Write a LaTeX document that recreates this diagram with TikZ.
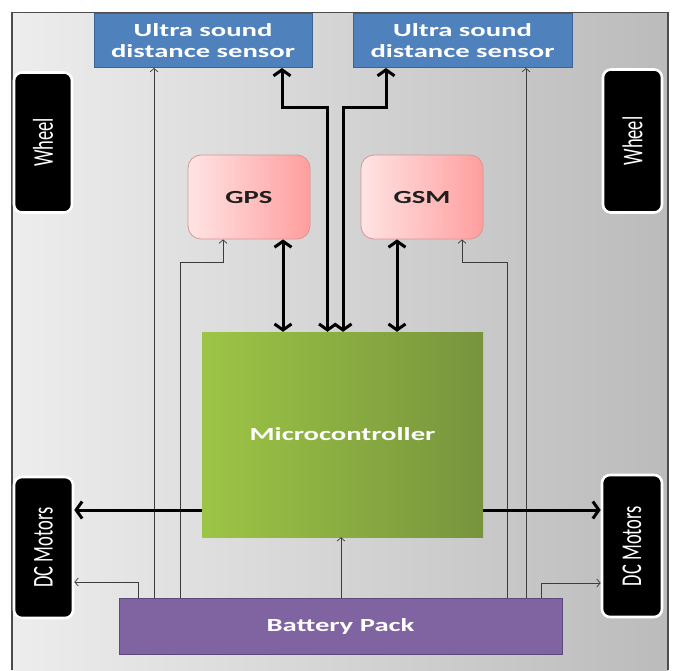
\documentclass[tikz,border=0pt]{standalone}
\usepackage{fontspec}
\usepackage{graphicx}
\setmainfont{Carlito}
\newfontfamily\cfs[FakeStretch=1.55]{Carlito}
\usetikzlibrary{arrows.meta}
\definecolor{usblue}{HTML}{4F81BD}
\definecolor{usborder}{HTML}{3A6497}
\definecolor{batfill}{HTML}{8064A2}
\definecolor{batborder}{HTML}{5E4A7A}
\definecolor{gpsL}{HTML}{FFE4E4}
\definecolor{gpsR}{HTML}{FF9E9E}
\definecolor{gpsB}{HTML}{D99595}
\definecolor{mcL}{HTML}{9DC545}
\definecolor{mcR}{HTML}{77943D}
\definecolor{bgL}{HTML}{EDEDED}
\definecolor{bgR}{HTML}{BBBBBB}
\definecolor{thinc}{HTML}{3C3C3C}
\tikzset{
  txt/.style={font=\cfs\bfseries\fontsize{18.5}{21}\selectfont},
  usbox/.style={draw=usborder, line width=1pt, fill=usblue, text=white, txt, align=center, inner sep=0pt},
  blackbox/.style={draw=white, line width=2.6pt, fill=black, rounded corners=8pt, text=white, inner sep=0pt},
  pinkbox/.style={draw=gpsB, line width=0.8pt, left color=gpsL, right color=gpsR, rounded corners=13pt, text=black!88, txt, inner sep=0pt},
  mcbox/.style={draw=none, left color=mcL, right color=mcR, text=white, txt, inner sep=0pt},
  batbox/.style={draw=batborder, line width=1pt, fill=batfill, text=white, txt, inner sep=0pt},
  bigarrow/.style={line width=3pt, black, arrows={-{Straight Barb[length=6pt,width=17pt]}}},
  bigboth/.style={line width=3pt, black, arrows={{Straight Barb[length=6pt,width=17pt]}-{Straight Barb[length=6pt,width=17pt]}}},
  thinarrow/.style={line width=0.8pt, thinc, arrows={-{Straight Barb[length=3.5pt,width=8pt,line width=0.7pt]}}},
}
\newcommand{\vtext}[1]{\scalebox{1}[1.55]{\fontsize{18.5}{21}\selectfont #1}}
\begin{document}
\begin{tikzpicture}[x=1pt,y=-1pt]
\useasboundingbox (0,0) rectangle (675,670);
% background frame
\shade[left color=bgL, right color=bgR] (12,12.5) rectangle (668,670);
\draw[line width=1.3pt, black!70] (12,670) -- (12,12.5) -- (668,12.5) -- (668,670);

% nodes
\node[usbox, minimum width=218pt, minimum height=54pt] (us1) at (203,40.5) {Ultra sound\\distance sensor};
\node[usbox, minimum width=219pt, minimum height=54pt] (us2) at (462.5,40.5) {Ultra sound\\distance sensor};
\node[blackbox, minimum width=58pt, minimum height=140pt] (wl) at (43,142.5) {};
\node[rotate=90, text=white] at (wl.center) {\vtext{Wheel}};
\node[blackbox, minimum width=59pt, minimum height=143pt] (wr) at (632.5,141) {};
\node[rotate=90, text=white] at (wr.center) {\vtext{Wheel}};
\node[pinkbox, minimum width=122pt, minimum height=84pt] (gps) at (249,197) {GPS};
\node[pinkbox, minimum width=122pt, minimum height=84pt] (gsm) at (422,197) {GSM};
\node[mcbox, minimum width=281pt, minimum height=205pt] (mc) at (342.5,434.5) {Microcontroller};
\node[blackbox, minimum width=59pt, minimum height=141pt] (dcl) at (43.5,547.5) {};
\node[rotate=90, text=white] at (dcl.center) {\vtext{DC Motors}};
\node[blackbox, minimum width=60pt, minimum height=142pt] (dcr) at (632,546) {};
\node[rotate=90, text=white] at (dcr.center) {\vtext{DC Motors}};
\node[batbox, minimum width=443pt, minimum height=56pt] (bat) at (340.5,626) {Battery Pack};

% thin power lines
\draw[thinarrow] ([xshift=0.5pt]bat.north) -- ([xshift=-1.5pt]mc.south);
\draw[thinarrow] ([xshift=-186.5pt]bat.north) -- ([xshift=-49pt]us1.south);
\draw[thinarrow] ([xshift=185.5pt]bat.north) -- ([xshift=63.5pt]us2.south);
\draw[thinarrow] ([xshift=-160.5pt]bat.north) -- ++(0,-335) -| ([xshift=-26pt]gps.south);
\draw[thinarrow] ([xshift=166.5pt]bat.north) -- ++(0,-335) -| ([xshift=40pt]gsm.south);
\draw[thinarrow] ([xshift=-202.5pt]bat.north) |- ([yshift=-34.5pt]dcl.east);
\draw[thinarrow] ([xshift=200.5pt]bat.north) |- ([yshift=-37pt]dcr.west);

% thick data lines
\draw[bigboth] ([xshift=34pt]gps.south) -- ([xshift=-59.5pt]mc.north);
\draw[bigboth] ([xshift=-25pt]gsm.south) -- ([xshift=54.5pt]mc.north);
\draw[bigboth] ([xshift=79pt]us1.south) -- ++(0,39) -| ([xshift=-15pt]mc.north);
\draw[bigboth] ([xshift=-76.5pt]us2.south) -- ++(0,39) -| ([xshift=0.5pt]mc.north);
\draw[bigarrow] ([yshift=-75.5pt]mc.west) -- ([yshift=37.5pt]dcl.east);
\draw[bigarrow] ([yshift=-75.5pt]mc.east) -- ([yshift=36pt]dcr.west);
\end{tikzpicture}
\end{document}
